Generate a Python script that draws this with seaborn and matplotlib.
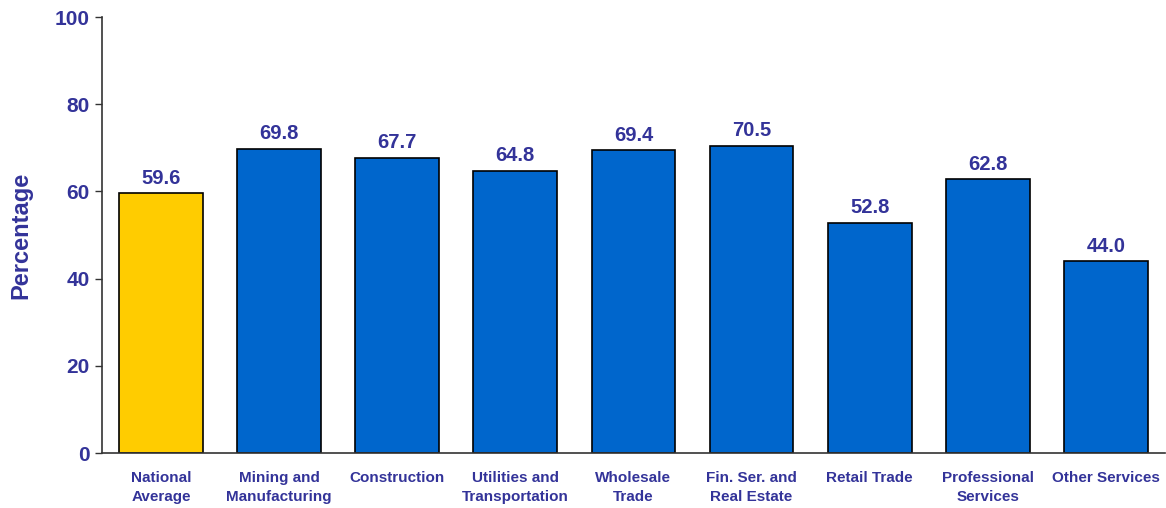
import matplotlib
matplotlib.use("Agg")
import matplotlib.pyplot as plt
import seaborn as sns
import pandas as pd
import numpy as np

categories = ["National\nAverage", "Mining and\nManufacturing", "Construction",
              "Utilities and\nTransportation", "Wholesale\nTrade", "Fin. Ser. and\nReal Estate",
              "Retail Trade", "Professional\nServices", "Other Services"]
values = [59.6, 69.8, 67.7, 64.8, 69.4, 70.5, 52.8, 62.8, 44.0]
bar_colors = ["#FFCC00"] + ["#0066CC"] * 8
yticks = [0, 20, 40, 60, 80, 100]

sns.set_theme(style="white")
plt.rcParams['font.family'] = ['Liberation Sans', 'DejaVu Sans']
txt = "#333399"

df = pd.DataFrame({"cat": categories, "val": values})
fig = plt.figure(figsize=(11.66, 5.08), dpi=100)
ax = fig.add_axes([0.0875, 0.108, 0.9115, 0.8585])
sns.barplot(data=df, x="cat", y="val", hue="cat", palette=bar_colors, legend=False,
            width=0.71, edgecolor="black", linewidth=1.2, saturation=1, ax=ax)

for i, v in enumerate(values):
    ax.text(i, v + 1.3, f"{v:.1f}", ha="center", va="bottom", fontsize=14.5,
            fontweight="bold", color=txt)

ax.set_xlim(-0.5, len(categories) - 0.5)
ax.set_ylim(0, 100)
ax.set_yticks(yticks)
ax.set_yticklabels([str(t) for t in yticks], fontsize=15, fontweight="bold", color=txt)
ax.set_xticks(range(len(categories)))
ax.set_xticklabels(categories, fontsize=11, fontweight="bold", color=txt, linespacing=1.45)
ax.set_xticks(np.arange(-0.5, len(categories)), minor=True)
ax.tick_params(axis="x", which="major", length=0, pad=13)
ax.tick_params(axis="x", which="minor", length=5, width=1, color="#333333", direction="out")
ax.tick_params(axis="y", length=5, width=1, color="#333333", direction="out", left=True, pad=4)
ax.set_xlabel("")
ax.set_ylabel("Percentage", fontsize=17, fontweight="bold", color=txt, labelpad=16)
for s in ["top", "right"]:
    ax.spines[s].set_visible(False)
for s in ["left", "bottom"]:
    ax.spines[s].set_color("#333333")
    ax.spines[s].set_linewidth(1.2)
ax.grid(False)

fig.savefig("out.png", dpi=100)
